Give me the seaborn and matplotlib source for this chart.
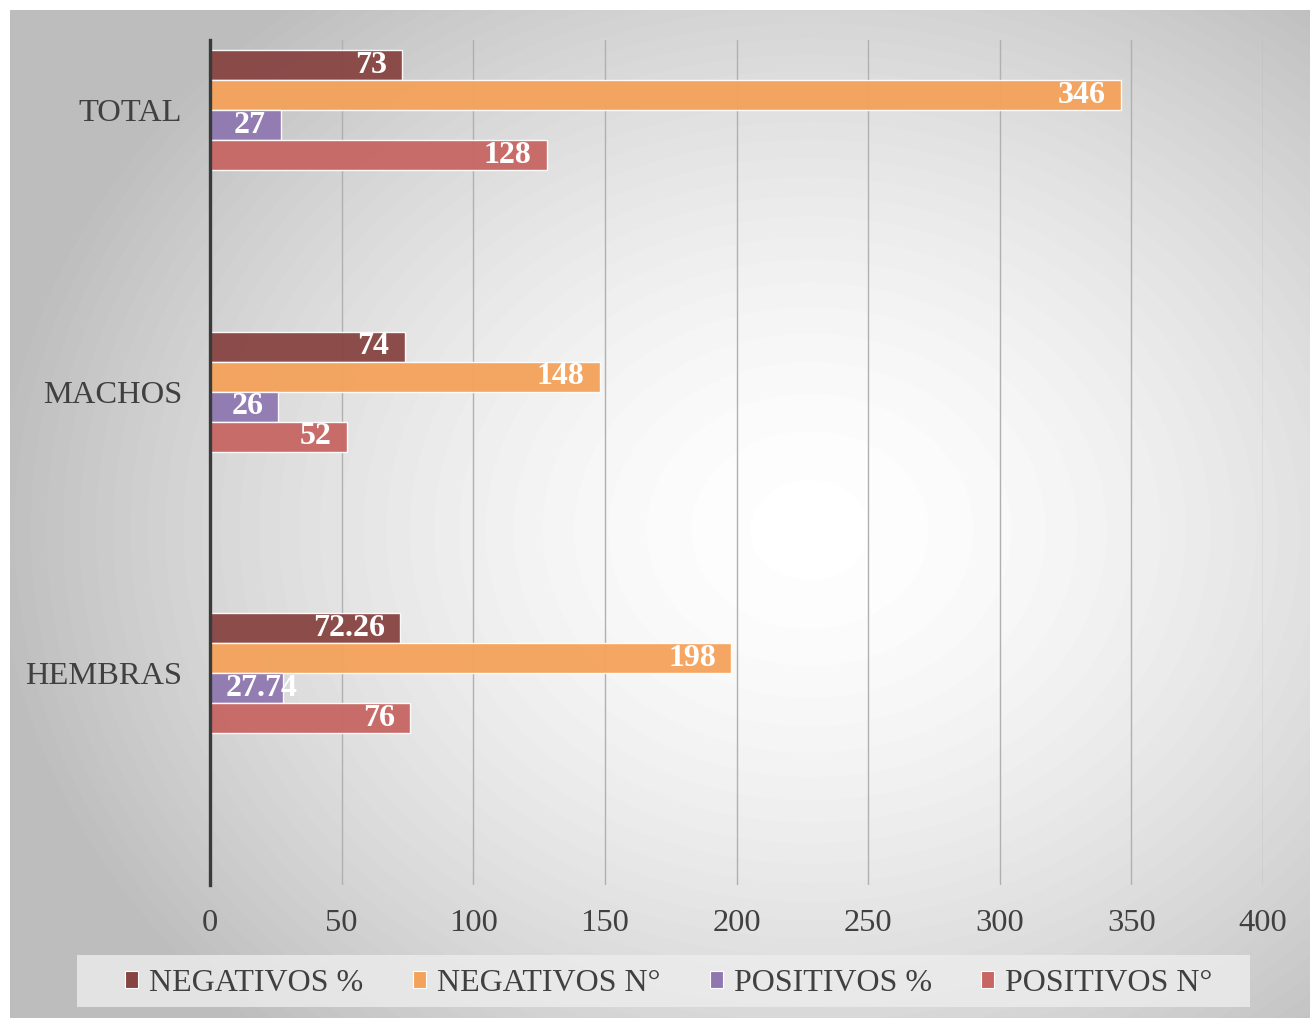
import numpy as np
import pandas as pd
import seaborn as sns
from matplotlib import pyplot as plt

categories = ["TOTAL", "MACHOS", "HEMBRAS"]
series = ["NEGATIVOS %", "NEGATIVOS N°", "POSITIVOS %", "POSITIVOS N°"]
neg_pct = [73, 74, 72.26]
neg_n = [346, 148, 198]
pos_pct = [27, 26, 27.74]
pos_n = [128, 52, 76]
colors = ["#874442", "#F4A25A", "#8F78B0", "#C76663"]

df = pd.DataFrame({
    "grupo": categories * 4,
    "serie": [s for s in series for _ in categories],
    "valor": neg_pct + neg_n + pos_pct + pos_n,
})

sns.set_style("white")
plt.rcParams["font.family"] = ["Liberation Serif", "DejaVu Serif"]
txt = "#404040"

fig = plt.figure(figsize=(13.1, 10.18), dpi=100)

# radial gray background panel
bg = fig.add_axes([10 / 1310, 0, 1 - 10 / 1310, 1 - 10 / 1018])
yy, xx = np.mgrid[0:1008, 0:1300]
r = np.sqrt(((xx - 800) / 900.0) ** 2 + ((yy - 520) / 750.0) ** 2)
bg.imshow(np.clip(1 - 0.3 * r ** 1.6, 0.74, 1), cmap="gray", vmin=0, vmax=1, aspect="auto")
bg.axis("off")

# legend box
fig.patches.append(plt.Rectangle((77 / 1310, 1 - 1007 / 1018), (1250 - 77) / 1310, 52 / 1018,
                                 transform=fig.transFigure, facecolor="#ededed",
                                 edgecolor="none", alpha=0.8, zorder=1))

ax = fig.add_axes([210 / 1310, 1 - 885 / 1018, (1263 - 210) / 1310, (885 - 40) / 1018])
ax.set_facecolor("none")
sns.barplot(data=df, y="grupo", x="valor", hue="serie", orient="h", ax=ax,
            palette=colors, saturation=1, width=0.426, edgecolor="white",
            linewidth=1, alpha=0.95, zorder=3)

for cont, vals in zip(ax.containers, [neg_pct, neg_n, pos_pct, pos_n]):
    for bar, v in zip(cont, vals):
        lab = f"{v:g}"
        yc = bar.get_y() + bar.get_height() / 2
        w = bar.get_width()
        if w < 40 and len(lab) > 3:
            ax.annotate(lab, (0, yc), xytext=(11, 0), textcoords="offset points",
                        ha="left", va="center", color="white", fontsize=23,
                        fontweight="bold", zorder=5)
        else:
            ax.annotate(lab, (w, yc), xytext=(-11, 0), textcoords="offset points",
                        ha="right", va="center", color="white", fontsize=23,
                        fontweight="bold", zorder=5)

ax.set_xlim(0, 400)
ax.set_xticks(range(0, 401, 50))
ax.set_ylim(2.753, -0.249)
ax.grid(axis="x", color="#b0b0b0", linewidth=1, zorder=0)
ax.set_axisbelow(True)
for s in ["top", "right", "bottom"]:
    ax.spines[s].set_visible(False)
ax.spines["left"].set_color("#3a3a3a")
ax.spines["left"].set_linewidth(2.4)
ax.spines["left"].set_zorder(6)
ax.tick_params(axis="y", length=0, pad=20, labelsize=23.4, labelcolor=txt)
ax.tick_params(axis="x", length=0, pad=17, labelsize=23.4, labelcolor=txt)
ax.set_xlabel("")
ax.set_ylabel("")

ax.legend_.remove()
handles = [plt.Rectangle((0, 0), 1, 1, facecolor=c, edgecolor="white", linewidth=0.8) for c in colors]
leg = fig.legend(handles, series, loc="center", bbox_to_anchor=(0.5107, 0.034), ncol=4,
                 fontsize=23, frameon=False, handlelength=0.4, handleheight=0.4,
                 handletextpad=0.35, columnspacing=1.55, borderpad=0.3, borderaxespad=0)
for t in leg.get_texts():
    t.set_color(txt)

fig.savefig("out.png", dpi=100)
